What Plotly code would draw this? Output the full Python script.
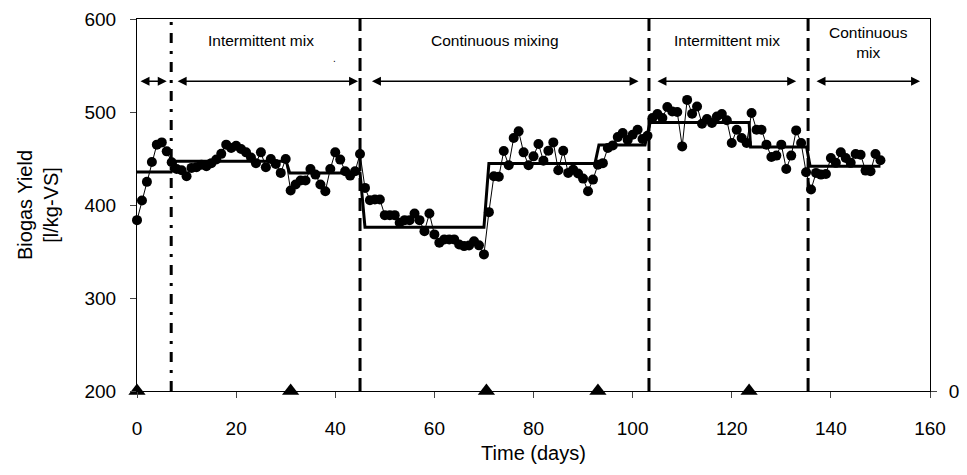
import plotly.graph_objects as go

# ---- data ----
days = list(range(0, 151))
biogas_yield = [
    383.7, 404.8, 424.9, 446.3, 464.9, 467.3, 457.7, 445.9, 438.8, 437.3,   # 0-9
    430.9, 439.9, 440.6, 443.4, 441.6, 445.0, 449.0, 455.0, 464.9, 461.3,   # 10-19
    463.8, 460.3, 456.6, 451.0, 445.0, 456.6, 440.5, 449.5, 444.1, 434.5,   # 20-29
    449.5, 415.6, 422.0, 426.3, 426.3, 438.8, 432.7, 422.0, 414.8, 438.8,   # 30-39
    456.6, 448.8, 436.3, 431.6, 436.3, 454.9, 418.4, 405.2, 405.9, 405.9,   # 40-49
    389.1, 389.1, 389.1, 381.0, 383.7, 383.7, 390.9, 383.7, 371.9, 390.9,   # 50-59
    368.4, 359.5, 363.0, 363.0, 363.0, 357.6, 355.8, 356.5, 360.9, 356.6,   # 60-69
    346.9, 392.3, 430.9, 430.3, 458.0, 442.7, 472.0, 479.2, 456.6, 442.7,   # 70-79
    452.3, 465.6, 447.7, 458.4, 467.3, 437.3, 458.4, 434.5, 438.0, 433.8,   # 80-89
    428.4, 414.8, 427.3, 443.4, 445.0, 461.3, 464.1, 473.0, 477.4, 470.0,   # 90-99
    475.6, 481.0, 471.0, 474.5, 493.5, 497.8, 493.5, 505.3, 500.6, 500.0,   # 100-109
    463.0, 513.0, 498.1, 506.0, 487.4, 492.4, 488.2, 495.2, 497.8, 491.1,   # 110-119
    466.7, 481.0, 472.0, 466.7, 498.9, 481.0, 481.0, 464.9, 451.7, 453.1,   # 120-129
    464.9, 438.8, 453.1, 480.2, 466.7, 435.2, 416.6, 434.5, 432.7, 433.4,   # 130-139
    450.6, 445.3, 456.6, 450.6, 445.3, 454.9, 454.1, 437.0, 436.3, 454.9,   # 140-149
    448.1,                                                                   # 150
]

phase_start = [0, 7.9, 30.8, 46, 71, 93.2, 103.5, 123.8, 135.8]
phase_end = [6.9, 30.1, 45, 70, 92.4, 102.5, 123.5, 135.1, 150]
phase_mean = [435.6, 447.0, 434.5, 376.0, 444.5, 464.5, 488.8, 462.5, 441.8]

event_days = [0, 31, 70.5, 93, 123.5]
event_level = [0, 0, 0, 0, 0]

dashdot_boundary = [6.9]
dashed_boundaries = [45, 103.3, 135.4]

arrow_spans = [(0.4, 6.0), (7.9, 44.6), (47.1, 101.2), (104.7, 133.0), (136.8, 158.0)]
arrow_level = 533

phase_labels = ["Intermittent mix", "Continuous mixing", "Intermittent mix", "Continuous<br>mix"]
phase_label_x = [25.1, 72.2, 119.0, 147.5]
phase_label_y = [577.0, 577.0, 577.0, 575.0]

x_ticks = [0, 20, 40, 60, 80, 100, 120, 140, 160]
y_ticks = [200, 300, 400, 500, 600]

FONT = "Liberation Sans, Arial, sans-serif"

# build step line from phases
step_x, step_y = [], []
for s, e, m in zip(phase_start, phase_end, phase_mean):
    step_x += [s, e]
    step_y += [m, m]

fig = go.Figure()

fig.add_trace(go.Scatter(
    x=days, y=biogas_yield, mode="lines+markers",
    line=dict(color="black", width=1),
    marker=dict(color="black", size=10, symbol="circle"),
    cliponaxis=False, showlegend=False,
))
fig.add_trace(go.Scatter(
    x=step_x, y=step_y, mode="lines",
    line=dict(color="black", width=3),
    showlegend=False,
))
fig.add_trace(go.Scatter(
    x=event_days, y=event_level, mode="markers", yaxis="y2",
    marker=dict(color="black", size=15, symbol="triangle-up"),
    cliponaxis=False, showlegend=False,
))

shapes = []
for d in dashdot_boundary:
    shapes.append(dict(type="line", xref="x", yref="paper", x0=d, x1=d, y0=0, y1=1,
                       line=dict(color="black", width=3, dash="10px,8px,3px,8px")))
for d in dashed_boundaries:
    shapes.append(dict(type="line", xref="x", yref="paper", x0=d, x1=d, y0=0, y1=1,
                       line=dict(color="black", width=3, dash="13px,7px")))

annotations = []
for a, b in arrow_spans:
    annotations.append(dict(
        x=b, y=arrow_level, ax=a, ay=arrow_level, xref="x", yref="y", axref="x", ayref="y",
        text="", showarrow=True, arrowhead=2, startarrowhead=2, arrowside="end+start",
        arrowsize=1.2, arrowwidth=1.5, arrowcolor="black", standoff=0, startstandoff=0,
    ))
for t, x, y in zip(phase_labels, phase_label_x, phase_label_y):
    annotations.append(dict(x=x, y=y, xref="x", yref="y", text=t, showarrow=False,
                            font=dict(family=FONT, size=15.5, color="black")))
annotations.append(dict(x=39.8, y=557.0, xref="x", yref="y", text=".", showarrow=False,
                        font=dict(family=FONT, size=10, color="black")))

fig.update_layout(
    width=967, height=475,
    margin=dict(l=137, r=37, t=19, b=84),
    paper_bgcolor="white", plot_bgcolor="white",
    font=dict(family=FONT, size=19, color="black"),
    shapes=shapes, annotations=annotations,
    xaxis=dict(range=[0, 160], tickvals=x_ticks, ticks="outside", ticklen=6,
               showline=True, linecolor="black", linewidth=1, mirror=True,
               showgrid=False, zeroline=False, ticklabelstandoff=14, automargin=False,
               title=dict(text="Time (days)", standoff=8, font=dict(size=20))),
    yaxis=dict(range=[200, 600], tickvals=y_ticks, ticks="outside", ticklen=6,
               showline=True, linecolor="black", linewidth=1, mirror=True,
               showgrid=False, zeroline=False, ticklabelstandoff=10, automargin=False,
               title=dict(text="Biogas Yield<br>[l/kg-VS]", standoff=20, font=dict(size=20))),
    yaxis2=dict(overlaying="y", side="right", range=[0, 100], tickvals=[0],
                ticks="outside", ticklen=6, showline=False, showgrid=False,
                zeroline=False, ticklabelstandoff=8, automargin=False),
)

fig.write_html("out.html")
